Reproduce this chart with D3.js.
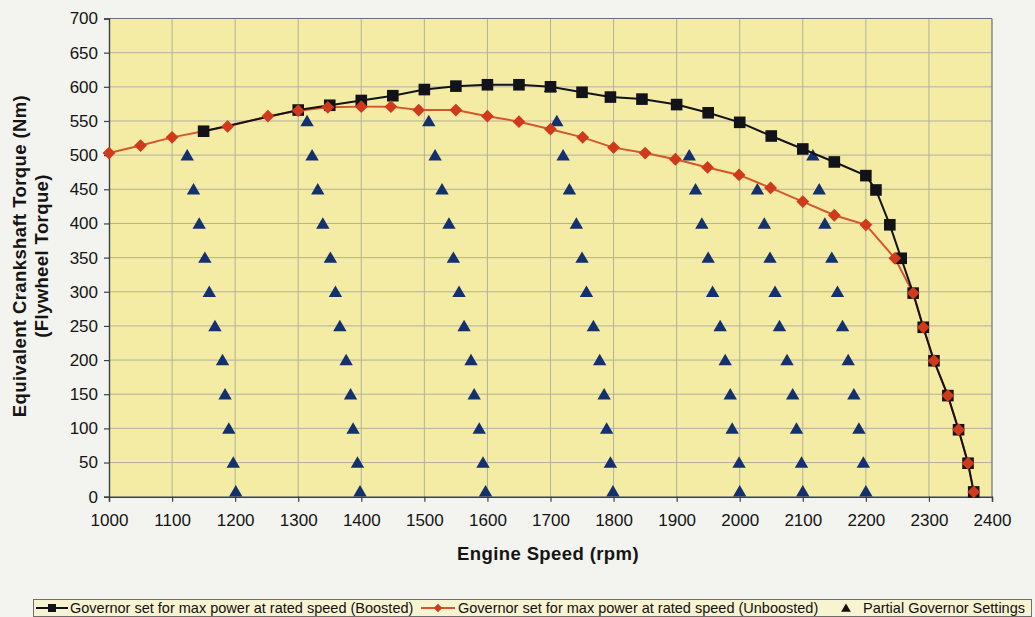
<!DOCTYPE html>
<html>
<head>
<meta charset="utf-8">
<script src="https://cdn.jsdelivr.net/npm/d3@7"></script>
<style>
  html, body { margin: 0; padding: 0; background: #f3f3ef; }
  svg { display: block; }
  text { font-family: "Liberation Sans", Arial, sans-serif; }
</style>
</head>
<body>
<svg id="chart" width="1035" height="617"></svg>
<script>
// Governor map: crankshaft torque vs engine speed
const boostedRpm    = [1150, 1300, 1350, 1400, 1450, 1500, 1550, 1600, 1650, 1700, 1750, 1795, 1845, 1900, 1950, 2000, 2050, 2100, 2150, 2200, 2216, 2238, 2256, 2275, 2291, 2308, 2330, 2347, 2362, 2371];
const boostedTorque = [535, 566, 573, 580, 587, 596, 601, 603, 603, 600, 592, 585, 582, 574, 562, 548, 528, 509, 490, 470, 449, 398, 349, 298, 248, 199, 148, 98, 49, 7];

const unboostedRpm    = [1000, 1050, 1100, 1188, 1252, 1300, 1347, 1400, 1447, 1491, 1550, 1600, 1650, 1700, 1751, 1800, 1850, 1898, 1949, 1999, 2049, 2100, 2150, 2200, 2246, 2275, 2291, 2308, 2330, 2347, 2362, 2371];
const unboostedTorque = [503, 514, 526, 542, 557, 565, 570, 571, 571, 566, 566, 557, 549, 538, 526, 511, 503, 494, 482, 471, 452, 432, 412, 398, 349, 298, 248, 199, 148, 98, 49, 7];

// Partial governor settings: torque levels and the speed at each level per setting
const partialTorque = [600, 550, 500, 450, 400, 350, 300, 250, 200, 150, 100, 50, 8];
const partial1200 = [null, null, 1124, 1134, 1143, 1152, 1159, 1168, 1180, 1184, 1190, 1197, 1201];
const partial1400 = [null, 1314, 1322, 1331, 1339, 1351, 1359, 1366, 1376, 1383, 1387, 1394, 1398];
const partial1600 = [null, 1507, 1517, 1528, 1539, 1546, 1555, 1563, 1574, 1579, 1587, 1593, 1597];
const partial1800 = [1700, 1710, 1720, 1730, 1741, 1750, 1757, 1768, 1778, 1785, 1789, 1795, 1799];
const partial2000 = [null, null, 1920, 1930, 1940, 1950, 1957, 1969, 1977, 1985, 1988, 1999, 2000];
const partial2100 = [null, null, null, 2028, 2039, 2048, 2056, 2063, 2075, 2084, 2090, 2098, 2100];
const partial2200 = [null, null, 2116, 2126, 2135, 2146, 2155, 2163, 2172, 2181, 2189, 2196, 2200];

const xTicks = d3.range(1000, 2401, 100);
const yTicks = d3.range(0, 701, 50);

const seriesNames = [
  "Governor set for max power at rated speed (Boosted)",
  "Governor set for max power at rated speed (Unboosted)",
  "Partial Governor Settings"
];

const colBlack = "#111318";
const colRed = "#cf3a1c";
const colRedLine = "#d4562a";
const colTri = "#13306f";

const svg = d3.select("#chart");
const plot = { left: 109, right: 992, top: 18.5, bottom: 496.7 };

const x = d3.scaleLinear().domain([1000, 2400]).range([plot.left, plot.right]);
const y = d3.scaleLinear().domain([0, 700]).range([plot.bottom, plot.top]);

// plot background
svg.append("rect")
  .attr("x", plot.left).attr("y", plot.top)
  .attr("width", plot.right - plot.left).attr("height", plot.bottom - plot.top)
  .attr("fill", "#f4eba4");

// gridlines
const grid = svg.append("g").attr("stroke", "#b3b199").attr("stroke-width", 1);
grid.selectAll("line.v").data(xTicks.slice(1, -1)).join("line")
  .attr("x1", d => x(d)).attr("x2", d => x(d))
  .attr("y1", plot.top).attr("y2", plot.bottom);
grid.selectAll("line.h").data(yTicks.slice(1, -1)).join("line")
  .attr("x1", plot.left).attr("x2", plot.right)
  .attr("y1", d => y(d)).attr("y2", d => y(d));

// plot frame (top/right lighter, axes darker)
svg.append("line").attr("x1", plot.left).attr("x2", plot.right)
  .attr("y1", plot.top).attr("y2", plot.top).attr("stroke", "#6b6f78").attr("stroke-width", 1.2);
svg.append("line").attr("x1", plot.right).attr("x2", plot.right)
  .attr("y1", plot.top).attr("y2", plot.bottom).attr("stroke", "#6b6f78").attr("stroke-width", 1.2);

// axes
const xAxis = svg.append("g").attr("transform", `translate(0,${plot.bottom})`)
  .call(d3.axisBottom(x).tickValues(xTicks).tickFormat(d3.format("d")).tickSize(5).tickPadding(12));
const yAxis = svg.append("g").attr("transform", `translate(${plot.left},0)`)
  .call(d3.axisLeft(y).tickValues(yTicks).tickFormat(d3.format("d")).tickSize(5).tickPadding(6));
[xAxis, yAxis].forEach(a => {
  a.select(".domain").attr("stroke", "#3b4048").attr("stroke-width", 1.4);
  a.selectAll(".tick line").attr("stroke", "#3b4048").attr("stroke-width", 1.2);
  a.selectAll(".tick text").attr("fill", "#141414")
    .style("font-size", "17px").style("font-family", "'Liberation Sans', Arial, sans-serif");
});

// axis titles
svg.append("text")
  .attr("x", 548).attr("y", 560)
  .attr("text-anchor", "middle")
  .attr("font-weight", "bold").attr("font-size", 18.5).attr("letter-spacing", 0.4).attr("fill", "#151515")
  .text("Engine Speed (rpm)");
const yt = svg.append("text")
  .attr("transform", "translate(26,256) rotate(-90)")
  .attr("text-anchor", "middle")
  .attr("font-weight", "bold").attr("font-size", 18.5).attr("letter-spacing", 0.4).attr("fill", "#151515");
yt.append("tspan").attr("x", 0).attr("dy", 0).text("Equivalent Crankshaft Torque (Nm)");
yt.append("tspan").attr("x", 0).attr("dy", 22).text("(Flywheel Torque)");

// marker shapes
const squarePath = s => `M${-s},${-s}H${s}V${s}H${-s}Z`;
const diamondPath = s => `M0,${-s}L${s},0L0,${s}L${-s},0Z`;
const trianglePath = s => `M0,${-s}L${s * 1.08},${s * 0.85}L${-s * 1.08},${s * 0.85}Z`;

// partial governor triangles
const partialCols = [partial1200, partial1400, partial1600, partial1800, partial2000, partial2100, partial2200];
const triPoints = [];
partialCols.forEach(col => col.forEach((rpm, i) => {
  if (rpm !== null) triPoints.push({ rpm, torque: partialTorque[i] });
}));
svg.append("g").selectAll("path").data(triPoints).join("path")
  .attr("transform", d => `translate(${x(d.rpm)},${y(d.torque)})`)
  .attr("d", trianglePath(6.2))
  .attr("fill", colTri);

const line = d3.line().x(d => x(d[0])).y(d => y(d[1]));

const unb = unboostedRpm.map((r, i) => [r, unboostedTorque[i]]);
const boo = boostedRpm.map((r, i) => [r, boostedTorque[i]]);

svg.append("path").datum(unb).attr("d", line)
  .attr("fill", "none").attr("stroke", colRedLine).attr("stroke-width", 2);
svg.append("path").datum(boo).attr("d", line)
  .attr("fill", "none").attr("stroke", colBlack).attr("stroke-width", 2);

svg.append("g").selectAll("path").data(boo).join("path")
  .attr("transform", d => `translate(${x(d[0])},${y(d[1])})`)
  .attr("d", squarePath(5.8)).attr("fill", colBlack);
svg.append("g").selectAll("path").data(unb).join("path")
  .attr("transform", d => `translate(${x(d[0])},${y(d[1])})`)
  .attr("d", diamondPath(6.4)).attr("fill", colRed);

// legend
const lg = svg.append("g");
lg.append("rect").attr("x", 33.5).attr("y", 599.5).attr("width", 998).attr("height", 17)
  .attr("fill", "#f8f4d2").attr("stroke", "#6d6d6d").attr("stroke-width", 1);
const ly = 608;
lg.append("line").attr("x1", 36).attr("x2", 68).attr("y1", ly).attr("y2", ly)
  .attr("stroke", colBlack).attr("stroke-width", 2);
lg.append("path").attr("transform", `translate(52,${ly})`).attr("d", squarePath(4)).attr("fill", colBlack);
lg.append("text").attr("x", 70).attr("y", ly + 5).attr("font-size", 14.5).attr("fill", "#111")
  .text(seriesNames[0]);
lg.append("line").attr("x1", 421).attr("x2", 455).attr("y1", ly).attr("y2", ly)
  .attr("stroke", colRedLine).attr("stroke-width", 2);
lg.append("path").attr("transform", `translate(438,${ly})`).attr("d", diamondPath(4.2)).attr("fill", colRed);
lg.append("text").attr("x", 458).attr("y", ly + 5).attr("font-size", 14.5).attr("fill", "#111")
  .text(seriesNames[1]);
lg.append("path").attr("transform", `translate(846,${ly})`).attr("d", trianglePath(4.5)).attr("fill", "#111");
lg.append("text").attr("x", 863).attr("y", ly + 5).attr("font-size", 14.5).attr("fill", "#111")
  .text(seriesNames[2]);
</script>
</body>
</html>
